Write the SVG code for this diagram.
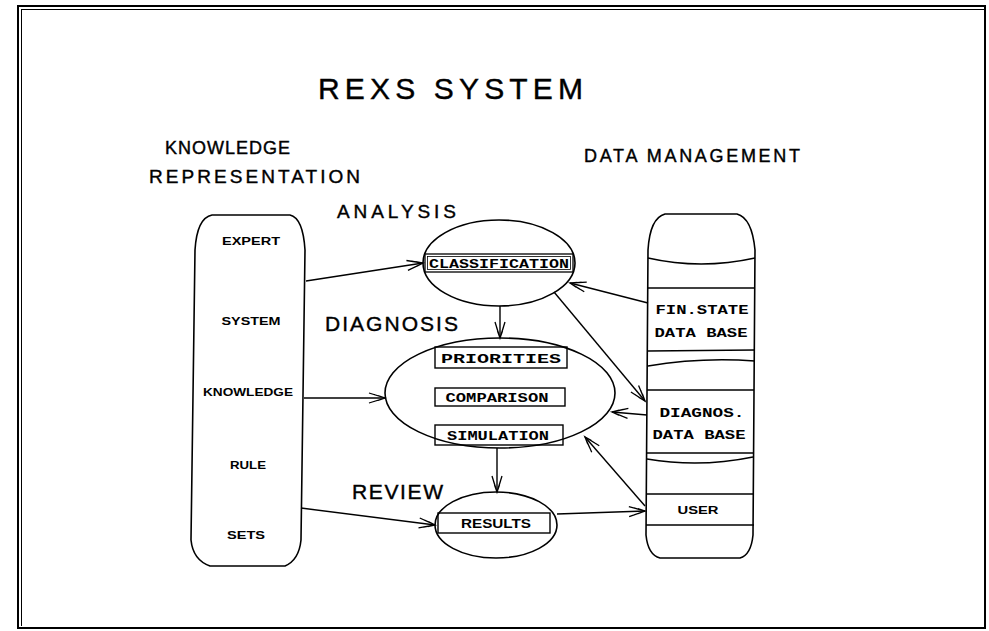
<svg xmlns="http://www.w3.org/2000/svg" width="989" height="631" viewBox="0 0 989 631">
<style>
.ln{fill:none;stroke:#000;stroke-width:1.4}
.sh{fill:#fff;stroke:#000;stroke-width:1.6}
.big{font-family:"Liberation Sans",Arial,sans-serif;fill:#000;stroke:#000;stroke-width:0.4}
.mid{font-family:"Liberation Mono","Courier New",monospace;font-weight:bold;fill:#000}
.sm{font-family:"Liberation Sans",Arial,sans-serif;font-weight:bold;fill:#000}
</style>
<defs>
<marker id="ah" markerUnits="userSpaceOnUse" markerWidth="18" markerHeight="12" refX="16" refY="6" orient="auto" overflow="visible">
<path d="M0,1 L16,6 L0,11 M5,2.5 L16,6 L5,9.5 M9,3.5 L16,6 L9,8.5" fill="none" stroke="#000" stroke-width="1.3"/>
</marker>
</defs>
<rect width="989" height="631" fill="#fff"/>
<g id="border">
<rect x="18" y="6" width="967" height="622" fill="none" stroke="#000" stroke-width="2"/>
<line x1="21" y1="9.5" x2="985" y2="9.5" stroke="#000" stroke-width="1"/>
<line x1="21.5" y1="9" x2="21.5" y2="626" stroke="#000" stroke-width="1"/>
</g>
<g id="titles">
<text class="big" x="318" y="99" font-size="30" textLength="265" lengthAdjust="spacing">REXS SYSTEM</text>
<text class="big" x="165" y="154" font-size="18" textLength="125" lengthAdjust="spacing">KNOWLEDGE</text>
<text class="big" x="149" y="183" font-size="19" textLength="211" lengthAdjust="spacing">REPRESENTATION</text>
<text class="big" x="584" y="162" font-size="18" textLength="216" lengthAdjust="spacing">DATA MANAGEMENT</text>
<text class="big" x="337" y="218" font-size="19" textLength="119" lengthAdjust="spacing">ANALYSIS</text>
<text class="big" x="325" y="331" font-size="21" textLength="133" lengthAdjust="spacing">DIAGNOSIS</text>
<text class="big" x="352" y="499" font-size="21" textLength="91" lengthAdjust="spacing">REVIEW</text>
</g>
<g id="knowledge">
<path class="sh" d="M212,215 L290,215 Q303,218 305,250 L301,540 Q299,560 285,566 L210,566 Q193,560 191,540 L195,250 Q197,218 212,215 Z"/>
<text class="sm" x="251" y="245" font-size="11" text-anchor="middle" textLength="58" lengthAdjust="spacingAndGlyphs">EXPERT</text>
<text class="sm" x="251" y="325" font-size="11" text-anchor="middle" textLength="59" lengthAdjust="spacingAndGlyphs">SYSTEM</text>
<text class="sm" x="248" y="396" font-size="11" text-anchor="middle" textLength="90" lengthAdjust="spacingAndGlyphs">KNOWLEDGE</text>
<text class="sm" x="248" y="469" font-size="11" text-anchor="middle" textLength="36" lengthAdjust="spacingAndGlyphs">RULE</text>
<text class="sm" x="246" y="539" font-size="11" text-anchor="middle" textLength="38" lengthAdjust="spacingAndGlyphs">SETS</text>
</g>
<g id="datamgmt">
<path class="sh" d="M665,214 L737,214 Q752,218 755,250 L753,535 Q751,555 740,558 L660,558 Q648,555 646,535 L648,250 Q650,218 665,214 Z"/>
<path class="ln" d="M648,258 Q701,270 755,258"/>
<line class="ln" x1="648" y1="288" x2="755" y2="288"/>
<line class="ln" x1="648" y1="351" x2="755" y2="350"/>
<path class="ln" d="M648,366 Q701,357 755,361"/>
<line class="ln" x1="647" y1="390" x2="754" y2="390"/>
<line class="ln" x1="647" y1="453" x2="754" y2="453"/>
<path class="ln" d="M647,459 Q700,468 753,457"/>
<line class="ln" x1="646" y1="494" x2="754" y2="494"/>
<line class="ln" x1="646" y1="525" x2="754" y2="525"/>
<text class="mid" x="702" y="314" font-size="13" text-anchor="middle" textLength="93" lengthAdjust="spacingAndGlyphs">FIN.STATE</text>
<text class="mid" x="701" y="337" font-size="13" text-anchor="middle" textLength="93" lengthAdjust="spacingAndGlyphs">DATA BASE</text>
<text class="mid" x="702" y="417" font-size="13" text-anchor="middle" textLength="85" lengthAdjust="spacingAndGlyphs">DIAGNOS.</text>
<text class="mid" x="699" y="439" font-size="13" text-anchor="middle" textLength="93" lengthAdjust="spacingAndGlyphs">DATA BASE</text>
<text class="sm" x="698" y="514" font-size="11" text-anchor="middle" textLength="41" lengthAdjust="spacingAndGlyphs">USER</text>
</g>
<g id="analysis">
<ellipse class="sh" cx="499" cy="263" rx="76" ry="43"/>
<rect x="425" y="254" width="148" height="18" fill="#fff" stroke="#000" stroke-width="1.3"/>
<rect x="427.5" y="256.5" width="143" height="13" fill="none" stroke="#000" stroke-width="0.8"/>
<text class="mid" x="499" y="268" font-size="13" text-anchor="middle" textLength="140" lengthAdjust="spacingAndGlyphs">CLASSIFICATION</text>
</g>
<g id="diagnosis">
<ellipse class="sh" cx="500" cy="393" rx="115" ry="55"/>
<rect class="ln" x="435" y="347" width="132" height="21"/>
<text class="mid" x="501" y="363" font-size="13" text-anchor="middle" textLength="120" lengthAdjust="spacingAndGlyphs">PRIORITIES</text>
<rect class="ln" x="435" y="388" width="130" height="18"/>
<text class="mid" x="497" y="402" font-size="12" text-anchor="middle" textLength="103" lengthAdjust="spacingAndGlyphs">COMPARISON</text>
<rect class="ln" x="435" y="425" width="128" height="20"/>
<text class="mid" x="498" y="440" font-size="13" text-anchor="middle" textLength="102" lengthAdjust="spacingAndGlyphs">SIMULATION</text>
</g>
<g id="review">
<ellipse class="sh" cx="496" cy="525" rx="61" ry="33"/>
<rect class="ln" x="438" y="513" width="112" height="20"/>
<text class="sm" x="496" y="528" font-size="12" text-anchor="middle" textLength="70" lengthAdjust="spacingAndGlyphs">RESULTS</text>
</g>
<g id="connectors" class="ln" marker-end="url(#ah)">
<line x1="306" y1="281" x2="423" y2="263"/>
<line x1="500" y1="306" x2="500" y2="338"/>
<line x1="648" y1="303" x2="570" y2="283"/>
<line x1="554" y1="292" x2="645" y2="401"/>
<line x1="647" y1="415" x2="612" y2="412"/>
<line x1="645" y1="506" x2="585" y2="437"/>
<line x1="304" y1="398" x2="385" y2="398"/>
<line x1="301" y1="508" x2="435" y2="525"/>
<line x1="557" y1="514" x2="645" y2="511"/>
<line x1="497" y1="448" x2="497" y2="492"/>
</g>
</svg>
